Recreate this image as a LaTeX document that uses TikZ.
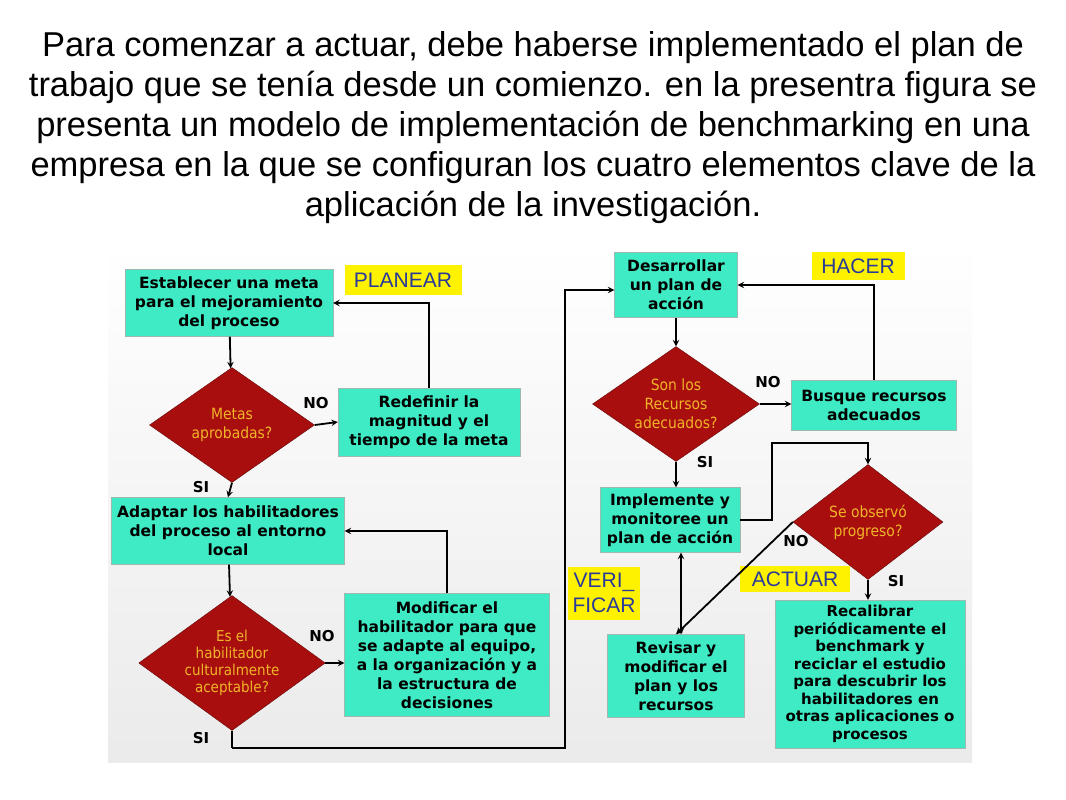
\documentclass[tikz,border=0pt]{standalone}
\usepackage{fontspec}
\setmainfont{Liberation Sans}
\newfontfamily\boxfont{DejaVu Sans}
\newfontfamily\diafont{DejaVu Sans Condensed}
\usetikzlibrary{shapes.geometric,positioning}
\definecolor{boxfill}{HTML}{3EEBC4}
\definecolor{boxline}{HTML}{9FB8B0}
\definecolor{diafill}{HTML}{A80E0E}
\definecolor{diatext}{HTML}{F0B428}
\definecolor{tagfill}{HTML}{FFF200}
\definecolor{tagtext}{HTML}{2A3A9A}
\tikzset{
  box/.style={draw=boxline,fill=boxfill,align=center,font=\boxfont\bfseries\fontsize{15.5}{19}\selectfont,inner sep=1pt},
  dia/.style={diamond,draw=diafill!60!black,fill=diafill,text=diatext,align=center,font=\diafont\fontsize{15.5}{19}\selectfont,inner sep=0pt,aspect=1.4},
  tag/.style={fill=tagfill,text=tagtext,align=center,font=\fontsize{21}{25}\selectfont,inner sep=3pt},
  lab/.style={font=\boxfont\bfseries\fontsize{15}{17}\selectfont},
  flow/.style={->,>=stealth,line width=1.8pt},
}
\begin{document}
\begin{tikzpicture}[x=1pt,y=-1pt]
\useasboundingbox (0,0) rectangle (1066,800);
\fill[white] (0,0) rectangle (1066,800);
\shade[top color=white,bottom color=black!8] (108,243) rectangle (972,762);
% title
\node[align=center,font=\fontsize{34.5}{40}\selectfont] (title) at (533,128)
 {Para comenzar a actuar, debe haberse implementado el plan de\\
  trabajo que se tenía desde un comienzo. en la presentra figura se\\
  presenta un modelo de implementación de benchmarking en una\\
  empresa en la que se configuran los cuatro elementos clave de la\\
  aplicación de la investigación.};
% planear
\node[box,minimum width=208,minimum height=67] (meta) at (229,303) {Establecer una meta\\para el mejoramiento\\del proceso};
\node[tag,minimum width=117,minimum height=30] (planear) at (403,280) {PLANEAR};
\node[dia,minimum width=165,minimum height=115] (aprob) at (232,425) {Metas\\aprobadas?};
\node[box,minimum width=182,minimum height=68] (redef) at (429,422) {Redefinir la\\magnitud y el\\tiempo de la meta};
\node[box,minimum width=233,minimum height=67] (adapt) at (228,531) {Adaptar los habilitadores\\del proceso al entorno\\local};
\node[dia,minimum width=165,minimum height=135,font=\diafont\fontsize{15}{17}\selectfont] (acept) at (232,663) {Es el\\habilitador\\culturalmente\\aceptable?};
\node[box,minimum width=205,minimum height=123] (modif) at (447,655) {Modificar el\\habilitador para que\\se adapte al equipo,\\a la organización y a\\la estructura de\\decisiones};
% hacer
\node[box,minimum width=123,minimum height=65] (desar) at (676,285) {Desarrollar\\un plan de\\acción};
\node[tag,minimum width=93,minimum height=28] (hacer) at (858,266) {HACER};
\node[dia,minimum width=167,minimum height=115] (recur) at (676,404) {Son los\\Recursos\\adecuados?};
\node[box,minimum width=165,minimum height=50] (busq) at (874,405) {Busque recursos\\adecuados};
\node[box,minimum width=140,minimum height=65] (imple) at (670,520) {Implemente y\\monitoree un\\plan de acción};
\node[dia,minimum width=150,minimum height=115] (progr) at (868,522) {Se observó\\progreso?};
\node[tag,minimum width=72,minimum height=53] (verif) at (604,593) {VERI\_\\FICAR};
\node[tag,minimum width=110,minimum height=26] (actuar) at (795,579) {ACTUAR};
\node[box,minimum width=137,minimum height=83] (revis) at (676,676) {Revisar y\\modificar el\\plan y los\\recursos};
\node[box,minimum width=190,minimum height=148,font=\boxfont\bfseries\fontsize{15}{17.5}\selectfont] (recal) at (870,674) {Recalibrar\\periódicamente el\\benchmark y\\reciclar el estudio\\para descubrir los\\habilitadores en\\otras aplicaciones o\\procesos};
% labels
\node[lab] (no1) at (316,403) {NO};
\node[lab] (si1) at (201,487) {SI};
\node[lab] (no2) at (322,636) {NO};
\node[lab] (si2) at (201,738) {SI};
\node[lab] (no3) at (768,382) {NO};
\node[lab] (si3) at (705,462) {SI};
\node[lab] (no4) at (796,541) {NO};
\node[lab] (si4) at (896,581) {SI};
\coordinate (low) at (232,748);
\coordinate (up) at (565,290);
% connectors
\draw[flow] (meta) -- (aprob);
\draw[flow] (aprob.east) -- (redef.west);
\draw[flow] (redef.north) |- (meta.east);
\draw[flow] (aprob.south) -- (adapt.north);
\draw[flow] (adapt) -- (acept);
\draw[flow] (acept.east) -- (acept.east -| modif.west);
\draw[flow] (modif.north) |- (adapt.east);
\draw[line width=1.8pt] (acept.south) -- (low);
\draw[flow] (low) -| (up) -- (up -| desar.west);
\draw[flow] (desar) -- (recur);
\draw[flow] (recur.east) -- (recur.east -| busq.west);
\draw[flow] (busq.north) |- (desar.east);
\draw[flow] (recur.south) -- (recur.south |- imple.north);
\draw[flow] (imple.east) -- ++(32,0) |- (progr.north |- 0,443) -- (progr.north);
\draw[flow] (progr.south) -- (progr.south |- recal.north);
\draw[flow] (progr.west) -- (revis.north);
\draw[<->,>=stealth,line width=1.8pt] (revis.north -| 681,0) -- (imple.south -| 681,0);
\end{tikzpicture}
\end{document}
